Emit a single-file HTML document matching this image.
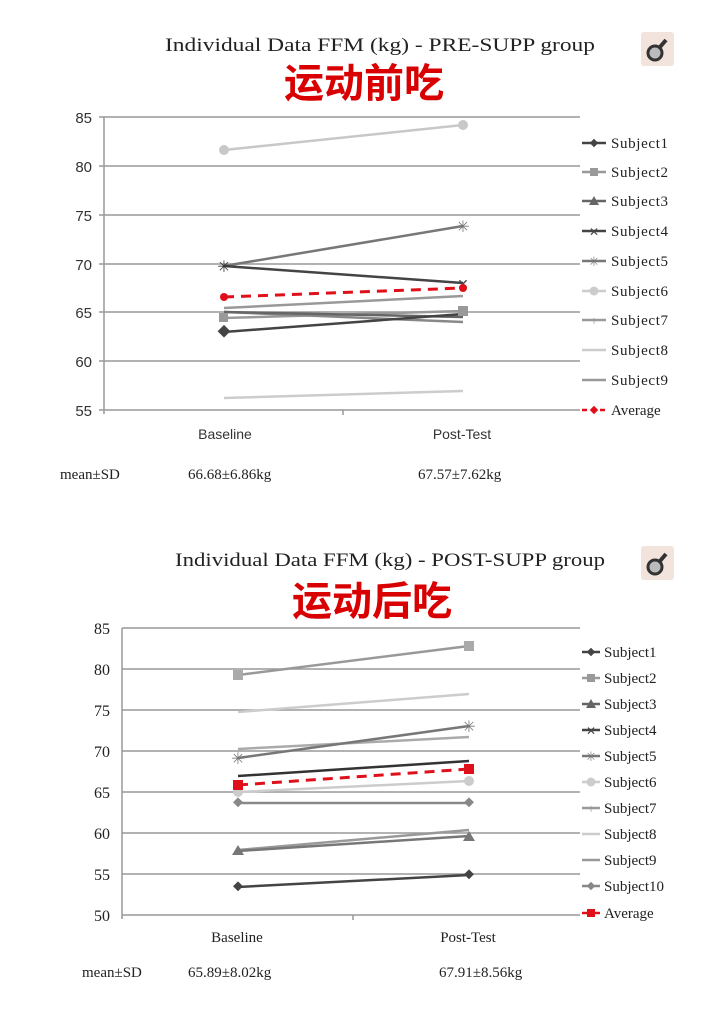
<!DOCTYPE html>
<html><head><meta charset="utf-8"><style>
html,body{margin:0;padding:0;background:#fff;}
svg{display:block}
.s{font-family:"Liberation Serif",serif;fill:#222}
.a{font-family:"Liberation Sans",sans-serif;fill:#333}
.cn{font-family:"Liberation Sans","Noto Sans CJK SC",sans-serif;fill:#d80000;font-weight:bold}
</style></head><body>
<svg width="725" height="1015" viewBox="0 0 725 1015" xmlns="http://www.w3.org/2000/svg">
<!-- Chart 1 -->
<text class="s" x="165" y="51" font-size="19" textLength="430" lengthAdjust="spacingAndGlyphs">Individual  Data FFM (kg)   - PRE-SUPP group</text>
<text class="cn" x="364" y="97" font-size="40" text-anchor="middle">运动前吃</text>
<g>
<rect x="641" y="32" width="33" height="34" rx="3" fill="#f2e4dc"/>
<circle cx="655" cy="53" r="7" fill="#bbb" stroke="#333" stroke-width="3"/>
<line x1="660" y1="47" x2="666" y2="40" stroke="#333" stroke-width="4"/>
</g>
<g stroke="#999" stroke-width="1.5">
<line x1="104" y1="117" x2="580" y2="117"/><line x1="104" y1="166" x2="580" y2="166"/>
<line x1="104" y1="215" x2="580" y2="215"/><line x1="104" y1="264" x2="580" y2="264"/>
<line x1="104" y1="312" x2="580" y2="312"/><line x1="104" y1="361" x2="580" y2="361"/>
<line x1="104" y1="410" x2="580" y2="410"/><line x1="104" y1="117" x2="104" y2="414"/>
<line x1="99" y1="117" x2="104" y2="117"/><line x1="99" y1="166" x2="104" y2="166"/><line x1="99" y1="215" x2="104" y2="215"/><line x1="99" y1="264" x2="104" y2="264"/><line x1="99" y1="312" x2="104" y2="312"/><line x1="99" y1="361" x2="104" y2="361"/><line x1="99" y1="410" x2="104" y2="410"/>
<line x1="343" y1="410" x2="343" y2="415"/>
</g>
<g class="a" font-size="15" text-anchor="end">
<text x="92" y="123">85</text><text x="92" y="172">80</text><text x="92" y="221">75</text><text x="92" y="270">70</text><text x="92" y="318">65</text><text x="92" y="367">60</text><text x="92" y="416">55</text>
</g>
<g stroke-width="2.5" fill="none">
<line x1="224" y1="150" x2="463" y2="125" stroke="#c8c8c8"/>
<line x1="224" y1="266" x2="463" y2="226" stroke="#777"/>
<line x1="224" y1="266" x2="463" y2="283" stroke="#444"/>
<line x1="224" y1="308" x2="463" y2="296" stroke="#999"/>
<line x1="224" y1="318" x2="463" y2="311" stroke="#999"/>
<line x1="224" y1="312" x2="463" y2="322" stroke="#888"/>
<line x1="224" y1="312" x2="463" y2="317" stroke="#666"/>
<line x1="224" y1="332" x2="463" y2="314" stroke="#444"/>
<line x1="224" y1="398" x2="463" y2="391" stroke="#ccc"/>
<line x1="224" y1="297" x2="463" y2="288" stroke="#e0101a" stroke-dasharray="10,7" stroke-width="3"/>
</g>
<g>
<circle cx="224" cy="150" r="5" fill="#c8c8c8"/><circle cx="463" cy="125" r="5" fill="#c8c8c8"/>
<text x="224" y="272" font-size="16" fill="#666" text-anchor="middle" class="a">✳</text>
<text x="463" y="232" font-size="16" fill="#777" text-anchor="middle">✳</text>
<text x="463" y="289" font-size="14" fill="#444" text-anchor="middle">✕</text>
<rect x="219" y="313" width="9" height="9" fill="#999"/><rect x="458" y="306" width="10" height="10" fill="#999"/>
<rect x="219" y="327" width="9" height="9" fill="#444" transform="rotate(45 224 332)"/>
<circle cx="224" cy="297" r="4" fill="#e0101a"/><circle cx="463" cy="288" r="4" fill="#e0101a"/>
</g>
<text class="a" x="225" y="439" font-size="14" text-anchor="middle">Baseline</text>
<text class="a" x="462" y="439" font-size="14" text-anchor="middle">Post-Test</text>
<text class="s" x="60" y="479" font-size="15">mean±SD</text>
<text class="s" x="188" y="479" font-size="15">66.68±6.86kg</text>
<text class="s" x="418" y="479" font-size="15">67.57±7.62kg</text>
<g class="s" font-size="15">
<g stroke-width="2.5"><line x1="582" y1="143" x2="606" y2="143" stroke="#444"/><line x1="582" y1="172" x2="606" y2="172" stroke="#999"/><line x1="582" y1="201" x2="606" y2="201" stroke="#666"/><line x1="582" y1="231" x2="606" y2="231" stroke="#444"/><line x1="582" y1="261" x2="606" y2="261" stroke="#777"/><line x1="582" y1="291" x2="606" y2="291" stroke="#ccc"/><line x1="582" y1="320" x2="606" y2="320" stroke="#999"/><line x1="582" y1="350" x2="606" y2="350" stroke="#ccc"/><line x1="582" y1="380" x2="606" y2="380" stroke="#999"/><line x1="582" y1="410" x2="606" y2="410" stroke="#e0101a" stroke-dasharray="5,4"/></g>
<rect x="591" y="140" width="6" height="6" fill="#444" transform="rotate(45 594 143)"/>
<rect x="590" y="168" width="8" height="8" fill="#999"/>
<polygon points="594,196 599,205 589,205" fill="#666"/>
<text x="594" y="236" font-size="12" fill="#444" text-anchor="middle">✕</text>
<text x="594" y="266" font-size="13" fill="#777" text-anchor="middle">✳</text>
<circle cx="594" cy="291" r="4.5" fill="#ccc"/>
<text x="594" y="325" font-size="13" fill="#999" text-anchor="middle">+</text>
<rect x="591" y="407" width="6" height="6" fill="#e0101a" transform="rotate(45 594 410)"/>
<text x="611" y="148" textLength="57">Subject1</text><text x="611" y="177" textLength="57">Subject2</text><text x="611" y="206" textLength="57">Subject3</text><text x="611" y="236" textLength="57">Subject4</text><text x="611" y="266" textLength="57">Subject5</text><text x="611" y="296" textLength="57">Subject6</text><text x="611" y="325" textLength="57">Subject7</text><text x="611" y="355" textLength="57">Subject8</text><text x="611" y="385" textLength="57">Subject9</text><text x="611" y="415">Average</text>
</g>

<!-- Chart 2 -->
<text class="s" x="175" y="566" font-size="19" textLength="430" lengthAdjust="spacingAndGlyphs">Individual  Data FFM (kg)   - POST-SUPP group</text>
<text class="cn" x="372" y="615" font-size="40" text-anchor="middle">运动后吃</text>
<g>
<rect x="641" y="546" width="33" height="34" rx="3" fill="#f2e4dc"/>
<circle cx="655" cy="567" r="7" fill="#bbb" stroke="#333" stroke-width="3"/>
<line x1="660" y1="561" x2="666" y2="554" stroke="#333" stroke-width="4"/>
</g>
<g stroke="#999" stroke-width="1.5">
<line x1="122" y1="628" x2="580" y2="628"/><line x1="122" y1="669" x2="580" y2="669"/><line x1="122" y1="710" x2="580" y2="710"/><line x1="122" y1="751" x2="580" y2="751"/><line x1="122" y1="792" x2="580" y2="792"/><line x1="122" y1="833" x2="580" y2="833"/><line x1="122" y1="874" x2="580" y2="874"/><line x1="122" y1="915" x2="580" y2="915"/>
<line x1="122" y1="628" x2="122" y2="919"/><line x1="353" y1="915" x2="353" y2="920"/>
</g>
<g class="s" font-size="16" text-anchor="end" fill="#444">
<text x="110" y="634">85</text><text x="110" y="675">80</text><text x="110" y="716">75</text><text x="110" y="757">70</text><text x="110" y="798">65</text><text x="110" y="839">60</text><text x="110" y="880">55</text><text x="110" y="921">50</text>
</g>
<g stroke-width="2.5" fill="none">
<line x1="238" y1="675" x2="469" y2="646" stroke="#999"/>
<line x1="238" y1="712" x2="469" y2="694" stroke="#ccc"/>
<line x1="238" y1="749" x2="469" y2="737" stroke="#aaa"/>
<line x1="238" y1="758" x2="469" y2="726" stroke="#777"/>
<line x1="238" y1="776" x2="469" y2="761" stroke="#333"/>
<line x1="238" y1="792" x2="469" y2="781" stroke="#ccc"/>
<line x1="238" y1="803" x2="469" y2="803" stroke="#888"/>
<line x1="238" y1="850" x2="469" y2="830" stroke="#999"/>
<line x1="238" y1="851" x2="469" y2="836" stroke="#777"/>
<line x1="238" y1="887" x2="469" y2="875" stroke="#444"/>
<line x1="238" y1="785" x2="469" y2="769" stroke="#e0101a" stroke-dasharray="10,7" stroke-width="3"/>
</g>
<g>
<rect x="233" y="670" width="10" height="10" fill="#aaa"/><rect x="464" y="641" width="10" height="10" fill="#aaa"/>
<circle cx="238" cy="792" r="5" fill="#ccc"/><circle cx="469" cy="781" r="5" fill="#ccc"/>
<rect x="233" y="780" width="10" height="10" fill="#e0101a"/><rect x="464" y="764" width="10" height="10" fill="#e0101a"/>
<rect x="234" y="799" width="7" height="7" fill="#888" transform="rotate(45 238 803)"/><rect x="465" y="799" width="7" height="7" fill="#888" transform="rotate(45 469 803)"/>
<rect x="234" y="883" width="7" height="7" fill="#444" transform="rotate(45 238 887)"/><rect x="465" y="871" width="7" height="7" fill="#444" transform="rotate(45 469 875)"/>
<polygon points="238,845 244,855 232,855" fill="#777"/><polygon points="469,831 475,841 463,841" fill="#777"/>
<text x="469" y="732" font-size="16" fill="#777" text-anchor="middle">✳</text>
<text x="238" y="764" font-size="16" fill="#777" text-anchor="middle">✳</text>
</g>
<text class="s" x="237" y="942" font-size="15" text-anchor="middle">Baseline</text>
<text class="s" x="468" y="942" font-size="15" text-anchor="middle">Post-Test</text>
<text class="s" x="82" y="977" font-size="15">mean±SD</text>
<text class="s" x="188" y="977" font-size="15">65.89±8.02kg</text>
<text class="s" x="439" y="977" font-size="15">67.91±8.56kg</text>
<g class="s" font-size="15">
<g stroke-width="2.5"><line x1="582" y1="652" x2="600" y2="652" stroke="#444"/><line x1="582" y1="678" x2="600" y2="678" stroke="#999"/><line x1="582" y1="704" x2="600" y2="704" stroke="#666"/><line x1="582" y1="730" x2="600" y2="730" stroke="#444"/><line x1="582" y1="756" x2="600" y2="756" stroke="#777"/><line x1="582" y1="782" x2="600" y2="782" stroke="#ccc"/><line x1="582" y1="808" x2="600" y2="808" stroke="#999"/><line x1="582" y1="834" x2="600" y2="834" stroke="#ccc"/><line x1="582" y1="860" x2="600" y2="860" stroke="#999"/><line x1="582" y1="886" x2="600" y2="886" stroke="#888"/><line x1="582" y1="913" x2="600" y2="913" stroke="#e0101a"/></g>
<rect x="588" y="649" width="6" height="6" fill="#444" transform="rotate(45 591 652)"/>
<rect x="587" y="674" width="8" height="8" fill="#999"/>
<polygon points="591,699 596,708 586,708" fill="#666"/>
<text x="591" y="735" font-size="12" fill="#444" text-anchor="middle">✕</text>
<text x="591" y="761" font-size="13" fill="#777" text-anchor="middle">✳</text>
<circle cx="591" cy="782" r="4.5" fill="#ccc"/>
<text x="591" y="813" font-size="13" fill="#999" text-anchor="middle">+</text>
<rect x="588" y="883" width="6" height="6" fill="#888" transform="rotate(45 591 886)"/>
<rect x="587" y="909" width="8" height="8" fill="#e0101a"/>
<text x="604" y="657">Subject1</text><text x="604" y="683">Subject2</text><text x="604" y="709">Subject3</text><text x="604" y="735">Subject4</text><text x="604" y="761">Subject5</text><text x="604" y="787">Subject6</text><text x="604" y="813">Subject7</text><text x="604" y="839">Subject8</text><text x="604" y="865">Subject9</text><text x="604" y="891">Subject10</text><text x="604" y="918">Average</text>
</g>
</svg>
</body></html>
